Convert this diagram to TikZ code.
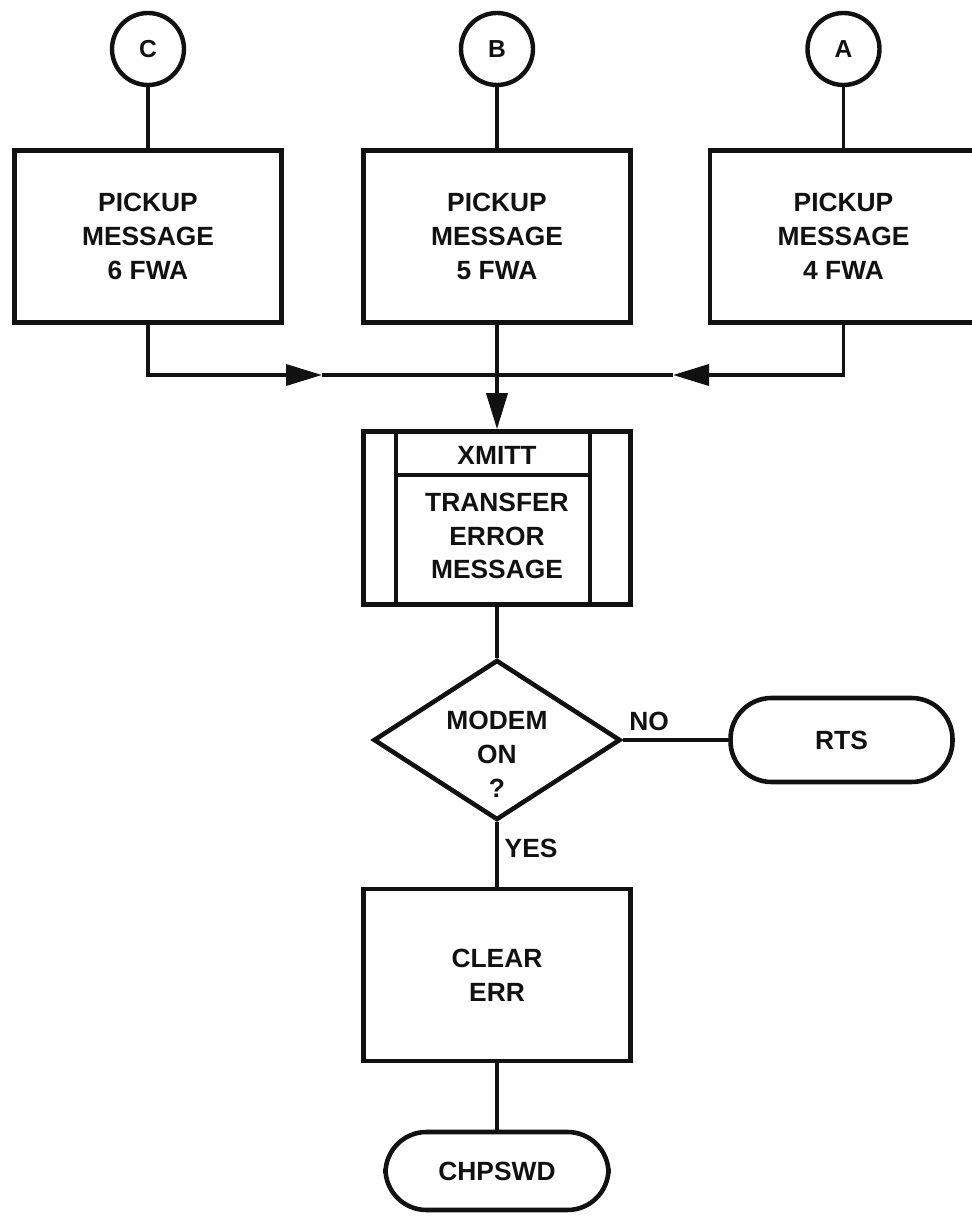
\documentclass[tikz,border=0pt]{standalone}
\usepackage{fontspec}
\setmainfont{Liberation Sans}
\usepackage{tikz}
\usetikzlibrary{positioning,arrows.meta,shapes.geometric}
\definecolor{ink}{HTML}{111111}
\newcommand{\chartfont}{\fontsize{15}{19.3}\selectfont\bfseries}
\newcommand{\tagfont}{\fontsize{14}{16}\selectfont\bfseries}
\tikzset{
  procbox/.style={draw=ink,line width=2.6pt,minimum width=5.34cm,minimum height=3.44cm,align=center,inner sep=0pt},
  entry/.style={draw=ink,circle,line width=2.5pt,minimum size=1.44cm,inner sep=0pt,font=\tagfont},
  decision/.style={draw=ink,diamond,line width=2.6pt,minimum width=4.94cm,minimum height=3.2cm,aspect=1.54,inner sep=0pt},
  terminal/.style={draw=ink,line width=2.6pt,rounded corners=0.82cm,minimum width=4.44cm,minimum height=1.68cm,inner sep=0pt},
  link/.style={draw=ink,line width=2.1pt},
  flowtip/.style={-{Triangle[length=0.72cm,width=0.42cm]}},
  rule/.style={draw=ink,line width=2.2pt}
}

\begin{document}
\begin{tikzpicture}[font=\chartfont,color=ink]
  \useasboundingbox (0,0) rectangle (19.44,24.32);
  %% entry points
  \node[entry] (entC) at (2.96,23.34) {C};
  \node[entry] (entB) at (9.94,23.34) {B};
  \node[entry] (entA) at (16.87,23.34) {A};
  %% pickup boxes
  \node[procbox] (pick6) at (2.96,19.59) {PICKUP\\MESSAGE\\6 FWA};
  \node[procbox] (pick5) at (9.94,19.59) {PICKUP\\MESSAGE\\5 FWA};
  \node[procbox] (pick4) at (16.87,19.59) {PICKUP\\MESSAGE\\4 FWA};
  \draw[link] (entC) -- (pick6);
  \draw[link] (entB) -- (pick5);
  \draw[link] (entA) -- (pick4);
  %% merge into XMITT
  \coordinate (join) at (9.94,16.82);
  \coordinate (tip6) at (6.44,16.82);
  \coordinate (tip4) at (13.46,16.82);
  \node[procbox,minimum height=3.46cm] (xmitt) at (9.94,13.96) {};
  \node (xmittname) at ([yshift=-0.52cm]xmitt.north) {XMITT};
  \node[align=center] (xmittbody) at ([yshift=-0.36cm]xmitt.center) {TRANSFER\\ERROR\\MESSAGE};
  \draw[rule] ([xshift=0.7cm]xmitt.north west) -- ([xshift=0.7cm]xmitt.south west);
  \draw[rule] ([xshift=-0.86cm]xmitt.north east) -- ([xshift=-0.86cm]xmitt.south east);
  \draw[rule] ([xshift=0.7cm,yshift=-0.92cm]xmitt.north west) -- ([xshift=-0.86cm,yshift=-0.92cm]xmitt.north east);
  \draw[link,flowtip] (pick6.south) |- (tip6);
  \draw[link] (tip6) -- (join);
  \draw[link,flowtip] (pick4.south) |- (tip4);
  \draw[link] (tip4) -- (join);
  \draw[link,flowtip] (pick5.south) -- (xmitt.north);
  %% modem test
  \node[decision] (modem) at (9.94,9.52) {};
  \node[align=center] (modemtxt) at ([yshift=-0.28cm]modem.center) {MODEM\\ON\\?};
  \node[terminal] (rts) at (16.83,9.52) {RTS};
  \draw[link] (xmitt) -- (modem);
  \draw[link] (modem.east) -- node[above=1pt,pos=0.25] (nolbl) {NO} (rts.west);
  %% clear and exit
  \node[procbox] (clear) at (9.94,4.82) {CLEAR\\ERR};
  \node[terminal,minimum width=4.46cm,minimum height=1.56cm] (chpswd) at (9.94,0.9) {CHPSWD};
  \draw[link] (modem.south) -- node[right=0pt,pos=0.4] (yeslbl) {YES} (clear.north);
  \draw[link] (clear) -- (chpswd);
\end{tikzpicture}
\end{document}
